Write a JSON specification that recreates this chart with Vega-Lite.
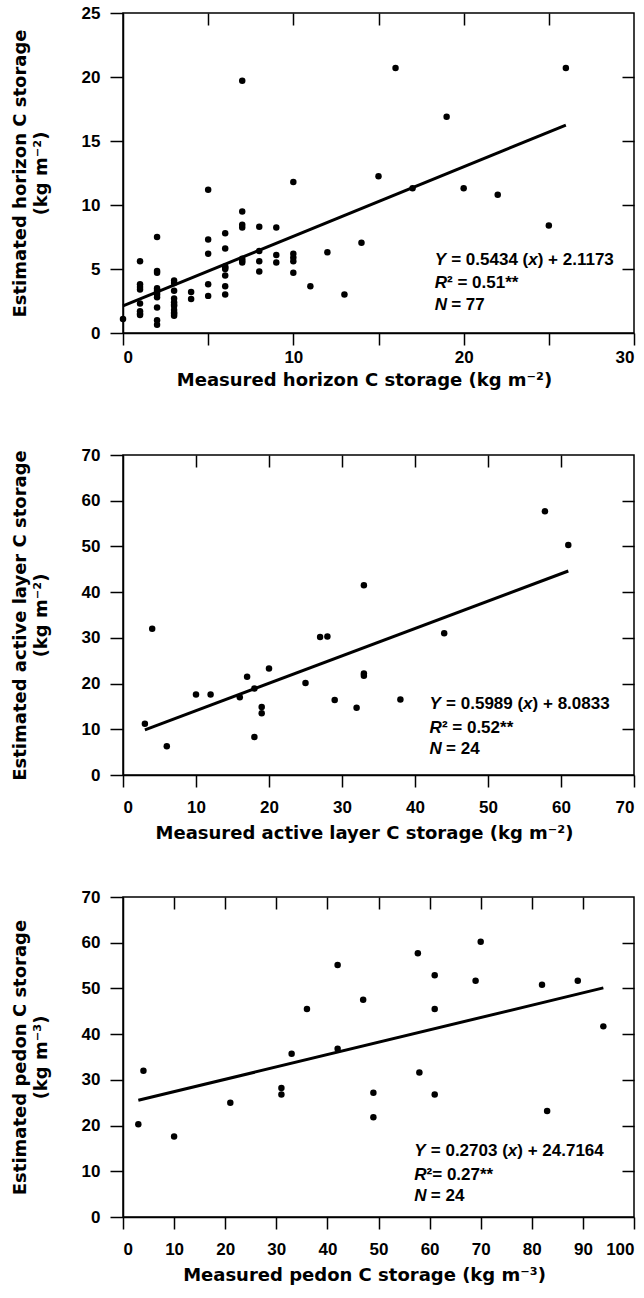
{
  "$schema": "https://vega.github.io/schema/vega-lite/v6.json",
  "background": "white",
  "padding": {"left": 10, "top": 3, "right": 0, "bottom": 0},
  "bounds": "flush",
  "spacing": 122,
  "config": {
    "view": {"stroke": "black", "strokeWidth": 1.5},
    "axis": {
      "grid": false,
      "domainColor": "black",
      "domainWidth": 1.5,
      "tickColor": "black",
      "tickWidth": 1.5,
      "labelFont": "Liberation Sans",
      "labelFontWeight": "bold",
      "labelFontSize": 17,
      "labelColor": "black",
      "titleFont": "DejaVu Sans",
      "titleFontWeight": "bold",
      "titleColor": "black"
    },
    "text": {"align": "left", "baseline": "middle", "font": "Liberation Sans", "fontWeight": "bold", "fontSize": 17, "color": "black"}
  },
  "datasets": {
    "horizon": [
      {"m": 0, "e": 1.1},
      {"m": 1, "e": 5.6}, {"m": 1, "e": 3.8}, {"m": 1, "e": 3.6}, {"m": 1, "e": 3.4}, {"m": 1, "e": 2.3}, {"m": 1, "e": 1.7}, {"m": 1, "e": 1.5}, {"m": 1, "e": 1.4},
      {"m": 2, "e": 7.5}, {"m": 2, "e": 4.85}, {"m": 2, "e": 4.7}, {"m": 2, "e": 3.5}, {"m": 2, "e": 3.35}, {"m": 2, "e": 3.2}, {"m": 2, "e": 3.0}, {"m": 2, "e": 2.8}, {"m": 2, "e": 2.0}, {"m": 2, "e": 1.0}, {"m": 2, "e": 0.65},
      {"m": 3, "e": 4.1}, {"m": 3, "e": 3.9}, {"m": 3, "e": 3.3}, {"m": 3, "e": 2.7}, {"m": 3, "e": 2.4}, {"m": 3, "e": 2.2}, {"m": 3, "e": 2.1}, {"m": 3, "e": 1.8}, {"m": 3, "e": 1.6}, {"m": 3, "e": 1.5}, {"m": 3, "e": 1.35},
      {"m": 4, "e": 3.2}, {"m": 4, "e": 2.65},
      {"m": 5, "e": 11.2}, {"m": 5, "e": 7.3}, {"m": 5, "e": 6.2}, {"m": 5, "e": 3.8}, {"m": 5, "e": 2.9},
      {"m": 6, "e": 7.8}, {"m": 6, "e": 6.6}, {"m": 6, "e": 5.2}, {"m": 6, "e": 5.1}, {"m": 6, "e": 5.0}, {"m": 6, "e": 4.5}, {"m": 6, "e": 3.65}, {"m": 6, "e": 3.0},
      {"m": 7, "e": 19.7}, {"m": 7, "e": 9.5}, {"m": 7, "e": 8.45}, {"m": 7, "e": 8.25}, {"m": 7, "e": 5.8}, {"m": 7, "e": 5.65}, {"m": 7, "e": 5.5},
      {"m": 8, "e": 8.3}, {"m": 8, "e": 6.4}, {"m": 8, "e": 5.6}, {"m": 8, "e": 4.8},
      {"m": 9, "e": 8.25}, {"m": 9, "e": 6.1}, {"m": 9, "e": 5.5},
      {"m": 10, "e": 11.8}, {"m": 10, "e": 6.2}, {"m": 10, "e": 5.9}, {"m": 10, "e": 5.6}, {"m": 10, "e": 4.7},
      {"m": 11, "e": 3.65}, {"m": 12, "e": 6.3}, {"m": 13, "e": 3.0}, {"m": 14, "e": 7.05}, {"m": 15, "e": 12.25},
      {"m": 16, "e": 20.7}, {"m": 17, "e": 11.3}, {"m": 19, "e": 16.9}, {"m": 20, "e": 11.3}, {"m": 22, "e": 10.8},
      {"m": 25, "e": 8.4}, {"m": 26, "e": 20.7}
    ],
    "active": [
      {"m": 3, "e": 11.2}, {"m": 4, "e": 32}, {"m": 6, "e": 6.3}, {"m": 10, "e": 17.6}, {"m": 12, "e": 17.6},
      {"m": 16, "e": 17}, {"m": 17, "e": 21.5}, {"m": 18, "e": 18.9}, {"m": 18, "e": 8.3}, {"m": 19, "e": 14.9},
      {"m": 19, "e": 13.5}, {"m": 20, "e": 23.3}, {"m": 25, "e": 20.1}, {"m": 27, "e": 30.2}, {"m": 28, "e": 30.3},
      {"m": 29, "e": 16.4}, {"m": 32, "e": 14.7}, {"m": 33, "e": 41.5}, {"m": 33, "e": 22.2}, {"m": 33, "e": 21.7},
      {"m": 38, "e": 16.5}, {"m": 44, "e": 31}, {"m": 57.8, "e": 57.7}, {"m": 61, "e": 50.3}
    ],
    "pedon": [
      {"m": 3, "e": 20.3}, {"m": 4, "e": 32}, {"m": 10, "e": 17.6}, {"m": 21, "e": 25}, {"m": 31, "e": 28.2},
      {"m": 31, "e": 26.8}, {"m": 33, "e": 35.7}, {"m": 36, "e": 45.5}, {"m": 42, "e": 55.1}, {"m": 42, "e": 36.8},
      {"m": 47, "e": 47.5}, {"m": 49, "e": 27.2}, {"m": 49, "e": 21.8}, {"m": 57.7, "e": 57.7}, {"m": 58, "e": 31.6},
      {"m": 61, "e": 52.9}, {"m": 61, "e": 45.5}, {"m": 61, "e": 26.8}, {"m": 69, "e": 51.7}, {"m": 70, "e": 60.2},
      {"m": 82, "e": 50.8}, {"m": 83, "e": 23.2}, {"m": 89, "e": 51.7}, {"m": 94, "e": 41.7}
    ],
    "fits": [
      {"panel": "horizon", "x": 0, "y": 2.117}, {"panel": "horizon", "x": 26, "y": 16.246},
      {"panel": "active", "x": 3, "y": 9.88}, {"panel": "active", "x": 61, "y": 44.62},
      {"panel": "pedon", "x": 3, "y": 25.53}, {"panel": "pedon", "x": 94, "y": 50.12}
    ],
    "notes": [
      {"panel": "horizon", "x": 18.3, "y": 5.7, "a": "Y", "b": "= 0.5434 (", "c": "x", "d": ") + 2.1173", "r": ""},
      {"panel": "horizon", "x": 18.3, "y": 3.9, "a": "R", "b": "", "c": "", "d": "", "r": "² = 0.51**"},
      {"panel": "horizon", "x": 18.3, "y": 2.2, "a": "N", "b": "= 77", "c": "", "d": "", "r": ""},
      {"panel": "active", "x": 42, "y": 15.6, "a": "Y", "b": "= 0.5989 (", "c": "x", "d": ") + 8.0833", "r": ""},
      {"panel": "active", "x": 42, "y": 10.2, "a": "R", "b": "", "c": "", "d": "", "r": "² = 0.52**"},
      {"panel": "active", "x": 42, "y": 5.6, "a": "N", "b": "= 24", "c": "", "d": "", "r": ""},
      {"panel": "pedon", "x": 57, "y": 14.5, "a": "Y", "b": "= 0.2703 (", "c": "x", "d": ") + 24.7164", "r": ""},
      {"panel": "pedon", "x": 57, "y": 9.2, "a": "R", "b": "", "c": "", "d": "", "r": "²= 0.27**"},
      {"panel": "pedon", "x": 57, "y": 4.6, "a": "N", "b": "= 24", "c": "", "d": "", "r": ""}
    ]
  },
  "vconcat": [
    {
      "width": 511, "height": 320,
      "resolve": {"axis": {"x": "independent", "y": "independent"}},
      "layer": [
        {
          "data": {"name": "horizon"},
          "mark": {"type": "point", "filled": true, "color": "black", "size": 42, "opacity": 1},
          "encoding": {
            "x": {"field": "m", "type": "quantitative", "scale": {"domain": [0, 30], "nice": false, "zero": false},
              "axis": {"orient": "bottom", "values": [0, 5, 10, 15, 20, 25, 30], "labelExpr": "datum.value % 10 === 0 ? datum.label : ''", "tickSize": 12, "labelPadding": 4, "title": "Measured horizon C storage (kg m⁻²)", "titleFontSize": 18, "titlePadding": 6, "titleX": 241, "titleAlign": "center"}},
            "y": {"field": "e", "type": "quantitative", "scale": {"domain": [0, 25], "nice": false, "zero": false},
              "axis": {"orient": "left", "values": [0, 5, 10, 15, 20, 25], "tickSize": 13, "labelPadding": 10, "title": ["Estimated horizon C storage", "(kg m⁻²)"], "titleFontSize": 18, "titleLineHeight": 21, "titlePadding": 31}}
          }
        },
        {
          "data": {"name": "fits"},
          "transform": [{"filter": "datum.panel === 'horizon'"}],
          "mark": {"type": "line", "color": "black", "strokeWidth": 3},
          "encoding": {
            "x": {"field": "x", "type": "quantitative", "axis": {"orient": "top", "values": [5, 10, 15, 20, 25], "labels": false, "tickSize": -12, "domain": false, "title": null}},
            "y": {"field": "y", "type": "quantitative", "axis": {"orient": "right", "values": [5, 10, 15, 20], "labels": false, "tickSize": -12, "domain": false, "title": null}}
          }
        },
        {
          "data": {"name": "notes"},
          "transform": [{"filter": "datum.panel === 'horizon'"}],
          "mark": {"type": "text", "fontStyle": "italic", "dx": 0},
          "encoding": {"x": {"field": "x", "type": "quantitative", "axis": null}, "y": {"field": "y", "type": "quantitative", "axis": null}, "text": {"field": "a"}}
        },
        {
          "data": {"name": "notes"},
          "transform": [{"filter": "datum.panel === 'horizon'"}],
          "mark": {"type": "text", "dx": 16.5},
          "encoding": {"x": {"field": "x", "type": "quantitative", "axis": null}, "y": {"field": "y", "type": "quantitative", "axis": null}, "text": {"field": "b"}}
        },
        {
          "data": {"name": "notes"},
          "transform": [{"filter": "datum.panel === 'horizon'"}],
          "mark": {"type": "text", "dx": 12.3},
          "encoding": {"x": {"field": "x", "type": "quantitative", "axis": null}, "y": {"field": "y", "type": "quantitative", "axis": null}, "text": {"field": "r"}}
        },
        {
          "data": {"name": "notes"},
          "transform": [{"filter": "datum.panel === 'horizon'"}],
          "mark": {"type": "text", "fontStyle": "italic", "dx": 93.5},
          "encoding": {"x": {"field": "x", "type": "quantitative", "axis": null}, "y": {"field": "y", "type": "quantitative", "axis": null}, "text": {"field": "c"}}
        },
        {
          "data": {"name": "notes"},
          "transform": [{"filter": "datum.panel === 'horizon'"}],
          "mark": {"type": "text", "dx": 103},
          "encoding": {"x": {"field": "x", "type": "quantitative", "axis": null}, "y": {"field": "y", "type": "quantitative", "axis": null}, "text": {"field": "d"}}
        }
      ]
    },
    {
      "width": 511, "height": 320,
      "resolve": {"axis": {"x": "independent", "y": "independent"}},
      "layer": [
        {
          "data": {"name": "active"},
          "mark": {"type": "point", "filled": true, "color": "black", "size": 42, "opacity": 1},
          "encoding": {
            "x": {"field": "m", "type": "quantitative", "scale": {"domain": [0, 70], "nice": false, "zero": false},
              "axis": {"orient": "bottom", "values": [0, 10, 20, 30, 40, 50, 60, 70], "tickSize": 12, "labelPadding": 12, "title": "Measured active layer C storage (kg m⁻²)", "titleFontSize": 18, "titlePadding": 9, "titleX": 241, "titleAlign": "center"}},
            "y": {"field": "e", "type": "quantitative", "scale": {"domain": [0, 70], "nice": false, "zero": false},
              "axis": {"orient": "left", "values": [0, 10, 20, 30, 40, 50, 60, 70], "tickSize": 13, "labelPadding": 10, "title": ["Estimated active layer C storage", "(kg m⁻²)"], "titleFontSize": 18, "titleLineHeight": 21, "titlePadding": 31}}
          }
        },
        {
          "data": {"name": "fits"},
          "transform": [{"filter": "datum.panel === 'active'"}],
          "mark": {"type": "line", "color": "black", "strokeWidth": 3},
          "encoding": {
            "x": {"field": "x", "type": "quantitative", "axis": {"orient": "top", "values": [10, 20, 30, 40, 50, 60], "labels": false, "tickSize": -12, "domain": false, "title": null}},
            "y": {"field": "y", "type": "quantitative", "axis": {"orient": "right", "values": [10, 20, 30, 40, 50, 60], "labels": false, "tickSize": -12, "domain": false, "title": null}}
          }
        },
        {
          "data": {"name": "notes"},
          "transform": [{"filter": "datum.panel === 'active'"}],
          "mark": {"type": "text", "fontStyle": "italic", "dx": 0},
          "encoding": {"x": {"field": "x", "type": "quantitative", "axis": null}, "y": {"field": "y", "type": "quantitative", "axis": null}, "text": {"field": "a"}}
        },
        {
          "data": {"name": "notes"},
          "transform": [{"filter": "datum.panel === 'active'"}],
          "mark": {"type": "text", "dx": 16.5},
          "encoding": {"x": {"field": "x", "type": "quantitative", "axis": null}, "y": {"field": "y", "type": "quantitative", "axis": null}, "text": {"field": "b"}}
        },
        {
          "data": {"name": "notes"},
          "transform": [{"filter": "datum.panel === 'active'"}],
          "mark": {"type": "text", "dx": 12.3},
          "encoding": {"x": {"field": "x", "type": "quantitative", "axis": null}, "y": {"field": "y", "type": "quantitative", "axis": null}, "text": {"field": "r"}}
        },
        {
          "data": {"name": "notes"},
          "transform": [{"filter": "datum.panel === 'active'"}],
          "mark": {"type": "text", "fontStyle": "italic", "dx": 93.5},
          "encoding": {"x": {"field": "x", "type": "quantitative", "axis": null}, "y": {"field": "y", "type": "quantitative", "axis": null}, "text": {"field": "c"}}
        },
        {
          "data": {"name": "notes"},
          "transform": [{"filter": "datum.panel === 'active'"}],
          "mark": {"type": "text", "dx": 103},
          "encoding": {"x": {"field": "x", "type": "quantitative", "axis": null}, "y": {"field": "y", "type": "quantitative", "axis": null}, "text": {"field": "d"}}
        }
      ]
    },
    {
      "width": 511, "height": 320,
      "resolve": {"axis": {"x": "independent", "y": "independent"}},
      "layer": [
        {
          "data": {"name": "pedon"},
          "mark": {"type": "point", "filled": true, "color": "black", "size": 42, "opacity": 1},
          "encoding": {
            "x": {"field": "m", "type": "quantitative", "scale": {"domain": [0, 100], "nice": false, "zero": false},
              "axis": {"orient": "bottom", "values": [0, 10, 20, 30, 40, 50, 60, 70, 80, 90, 100], "tickSize": 12, "labelPadding": 12, "title": "Measured pedon C storage (kg m⁻³)", "titleFontSize": 18, "titlePadding": 9, "titleX": 241, "titleAlign": "center"}},
            "y": {"field": "e", "type": "quantitative", "scale": {"domain": [0, 70], "nice": false, "zero": false},
              "axis": {"orient": "left", "values": [0, 10, 20, 30, 40, 50, 60, 70], "tickSize": 13, "labelPadding": 10, "title": ["Estimated pedon C storage", "(kg m⁻³)"], "titleFontSize": 18, "titleLineHeight": 21, "titlePadding": 31}}
          }
        },
        {
          "data": {"name": "fits"},
          "transform": [{"filter": "datum.panel === 'pedon'"}],
          "mark": {"type": "line", "color": "black", "strokeWidth": 3},
          "encoding": {
            "x": {"field": "x", "type": "quantitative", "axis": {"orient": "top", "values": [10, 20, 30, 40, 50, 60, 70, 80, 90], "labels": false, "tickSize": -12, "domain": false, "title": null}},
            "y": {"field": "y", "type": "quantitative", "axis": {"orient": "right", "values": [10, 20, 30, 40, 50, 60], "labels": false, "tickSize": -12, "domain": false, "title": null}}
          }
        },
        {
          "data": {"name": "notes"},
          "transform": [{"filter": "datum.panel === 'pedon'"}],
          "mark": {"type": "text", "fontStyle": "italic", "dx": 0},
          "encoding": {"x": {"field": "x", "type": "quantitative", "axis": null}, "y": {"field": "y", "type": "quantitative", "axis": null}, "text": {"field": "a"}}
        },
        {
          "data": {"name": "notes"},
          "transform": [{"filter": "datum.panel === 'pedon'"}],
          "mark": {"type": "text", "dx": 16.5},
          "encoding": {"x": {"field": "x", "type": "quantitative", "axis": null}, "y": {"field": "y", "type": "quantitative", "axis": null}, "text": {"field": "b"}}
        },
        {
          "data": {"name": "notes"},
          "transform": [{"filter": "datum.panel === 'pedon'"}],
          "mark": {"type": "text", "dx": 12.3},
          "encoding": {"x": {"field": "x", "type": "quantitative", "axis": null}, "y": {"field": "y", "type": "quantitative", "axis": null}, "text": {"field": "r"}}
        },
        {
          "data": {"name": "notes"},
          "transform": [{"filter": "datum.panel === 'pedon'"}],
          "mark": {"type": "text", "fontStyle": "italic", "dx": 93.5},
          "encoding": {"x": {"field": "x", "type": "quantitative", "axis": null}, "y": {"field": "y", "type": "quantitative", "axis": null}, "text": {"field": "c"}}
        },
        {
          "data": {"name": "notes"},
          "transform": [{"filter": "datum.panel === 'pedon'"}],
          "mark": {"type": "text", "dx": 103},
          "encoding": {"x": {"field": "x", "type": "quantitative", "axis": null}, "y": {"field": "y", "type": "quantitative", "axis": null}, "text": {"field": "d"}}
        }
      ]
    }
  ]
}
